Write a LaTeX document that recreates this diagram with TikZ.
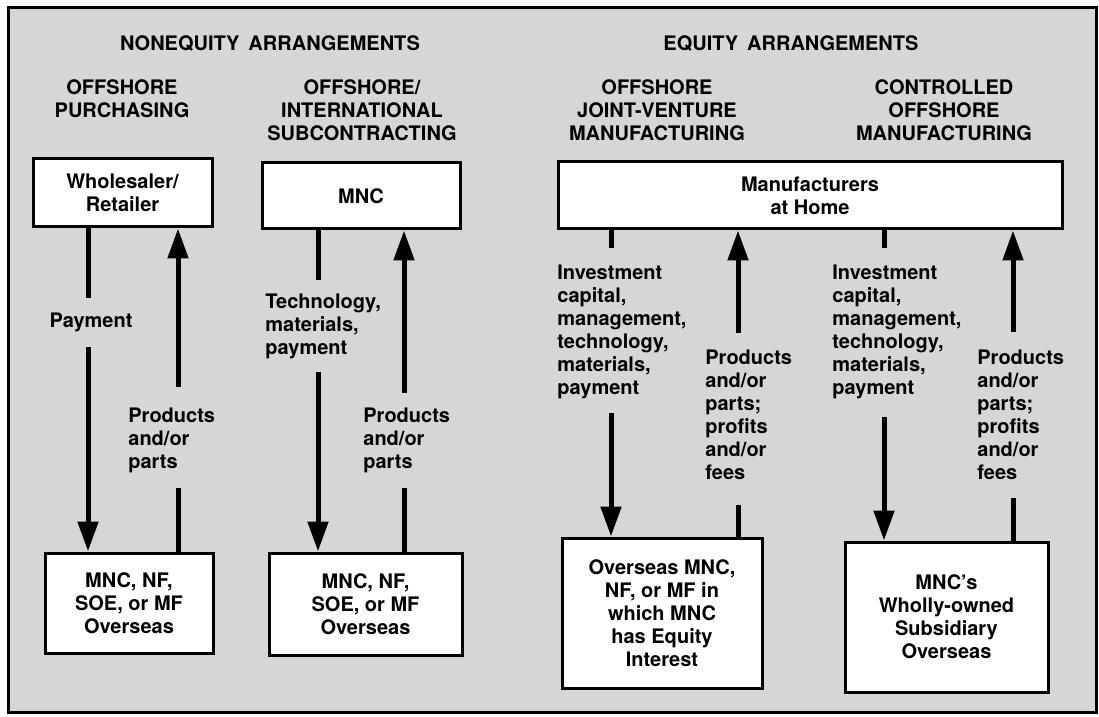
\documentclass[tikz,border=0pt]{standalone}
\usepackage{fontspec}
\setmainfont{TeX Gyre Heros}
\usetikzlibrary{arrows.meta}
\definecolor{paper}{RGB}{214,214,214}
\tikzset{
  txt/.style={font=\fontsize{10}{11.5}\selectfont\bfseries, inner sep=0pt},
  hdr/.style={txt, align=center},
  lbl/.style={txt, align=left, anchor=north west},
  box/.style={txt, draw, fill=white, line width=1.5pt, align=center},
  conn/.style={line width=2.5pt},
  arr/.style={-{Triangle[length=15pt,width=10pt]}}
}
\begin{document}
\begin{tikzpicture}[x=0.5pt,y=-0.5pt]
\useasboundingbox (0,0) rectangle (1099,717);
\fill[white] (0,0) rectangle (1099,717);
\draw[line width=1.5pt, fill=paper] (8,8) rectangle (1096,712);

% headers
\node[hdr] (hne) at (270,44) {NONEQUITY\hspace{0.45em}ARRANGEMENTS};
\node[hdr] (heq) at (791,44) {EQUITY\hspace{0.45em}ARRANGEMENTS};
\node[hdr] (h1) at (122,99) {OFFSHORE\\PURCHASING};
\node[hdr] (h2) at (362,110) {OFFSHORE/\\INTERNATIONAL\\SUBCONTRACTING};
\node[hdr] (h3) at (657,110) {OFFSHORE\\JOINT-VENTURE\\MANUFACTURING};
\node[hdr] (h4) at (944,110) {CONTROLLED\\OFFSHORE\\MANUFACTURING};

% top boxes
\node[box, minimum width=89.5pt, minimum height=34pt] (wr) at (122.5,193) {Wholesaler/\\Retailer};
\node[box, minimum width=99pt, minimum height=33pt] (mnc) at (361,196) {MNC};
\node[box, minimum width=252pt, minimum height=33.5pt] (home) at (810,195.5) {Manufacturers\\at Home};

% bottom boxes
\node[box, minimum width=84pt, minimum height=50pt] (ov1) at (129,603) {MNC, NF,\\SOE, or MF\\Overseas};
\node[box, minimum width=96.5pt, minimum height=51pt] (ov2) at (365.5,604) {MNC, NF,\\SOE, or MF\\Overseas};
\node[box, minimum width=100pt, minimum height=75pt] (ov3) at (662,613) {Overseas MNC,\\NF, or MF in\\which MNC\\has Equity\\Interest};
\node[box, minimum width=101.5pt, minimum height=75pt] (ov4) at (946.5,617) {MNC's\\Wholly-owned\\Subsidiary\\Overseas};

% labels
\node[txt] (l1d) at (91,322) {Payment};
\node[lbl] (l1u) at (128,408) {Products\\and/or\\parts};
\node[lbl] (l2d) at (265,294) {Technology,\\materials,\\payment};
\node[lbl] (l2u) at (363,408) {Products\\and/or\\parts};
\node[lbl] (l3d) at (557,265) {Investment\\capital,\\management,\\technology,\\materials,\\payment};
\node[lbl] (l3u) at (705,350) {Products\\and/or\\parts;\\profits\\and/or\\fees};
\node[lbl] (l4d) at (832,265) {Investment\\capital,\\management,\\technology,\\materials,\\payment};
\node[lbl] (l4u) at (977,350) {Products\\and/or\\parts;\\profits\\and/or\\fees};

% connector break points
\coordinate (c1dA) at (88,298);  \coordinate (c1dB) at (88,347);
\coordinate (c1uA) at (178,488); \coordinate (c1uB) at (178,387);
\coordinate (c2dA) at (318,280); \coordinate (c2dB) at (318,372);
\coordinate (c2uA) at (404,488); \coordinate (c2uB) at (404,393);
\coordinate (c3dA) at (611,248); \coordinate (c3dB) at (611,413);
\coordinate (c3uA) at (738,505); \coordinate (c3uB) at (738,333);
\coordinate (c4dA) at (884,248); \coordinate (c4dB) at (884,417);
\coordinate (c4uA) at (1013,498); \coordinate (c4uB) at (1013,332);

% column 1
\draw[conn] (wr.south -| c1dA) -- (c1dA);
\draw[conn,arr] (c1dB) -- (ov1.north -| c1dB);
\draw[conn] (ov1.north -| c1uA) -- (c1uA);
\draw[conn,arr] (c1uB) -- (wr.south -| c1uB);
% column 2
\draw[conn] (mnc.south -| c2dA) -- (c2dA);
\draw[conn,arr] (c2dB) -- (ov2.north -| c2dB);
\draw[conn] (ov2.north -| c2uA) -- (c2uA);
\draw[conn,arr] (c2uB) -- (mnc.south -| c2uB);
% column 3
\draw[conn] (home.south -| c3dA) -- (c3dA);
\draw[conn,arr] (c3dB) -- (ov3.north -| c3dB);
\draw[conn] (ov3.north -| c3uA) -- (c3uA);
\draw[conn,arr] (c3uB) -- (home.south -| c3uB);
% column 4
\draw[conn] (home.south -| c4dA) -- (c4dA);
\draw[conn,arr] (c4dB) -- (ov4.north -| c4dB);
\draw[conn] (ov4.north -| c4uA) -- (c4uA);
\draw[conn,arr] (c4uB) -- (home.south -| c4uB);
\end{tikzpicture}
\end{document}
